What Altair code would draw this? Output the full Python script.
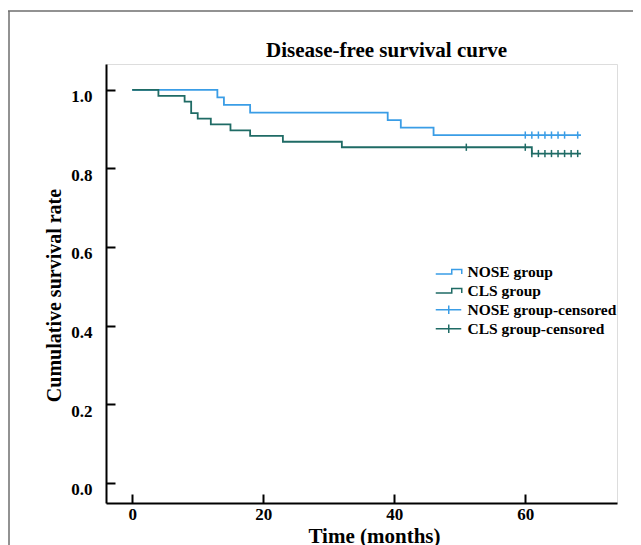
import altair as alt
import pandas as pd

# ---- data ----
series = ["NOSE group", "CLS group", "NOSE group-censored", "CLS group-censored"]
series_colors = ["#3a9de6", "#1f6b65", "#3a9de6", "#1f6b65"]

nose_time = [0, 13, 14, 18, 39, 41, 46, 68.5]
nose_surv = [1.0, 0.981, 0.962, 0.942, 0.923, 0.904, 0.885, 0.885]

cls_time = [0, 4, 8, 9, 10, 12, 15, 18, 23, 32, 61, 68.5]
cls_surv = [1.0, 0.985, 0.970, 0.941, 0.927, 0.912, 0.897, 0.883, 0.868, 0.854, 0.838, 0.838]

nose_cens_time = [60, 61, 62, 63, 64, 65, 66, 68]
nose_cens_surv = [0.885, 0.885, 0.885, 0.885, 0.885, 0.885, 0.885, 0.885]

cls_cens_time = [51, 60, 61, 62, 63, 64, 65, 66, 67, 68]
cls_cens_surv = [0.854, 0.854, 0.838, 0.838, 0.838, 0.838, 0.838, 0.838, 0.838, 0.838]

x_ticks = [0, 20, 40, 60]
y_ticks = [0.0, 0.2, 0.4, 0.6, 0.8, 1.0]

# legend symbol paths (step line for groups, cross for censored)
step_path = "M-2.6,0.45H0.6V-0.45H2.6V0.45"
cross_path = "M-2.6,0H2.5M0,-0.85V0.85"
legend_paths = [step_path, step_path, cross_path, cross_path]

# ---- tables ----
line_df = pd.concat([
    pd.DataFrame({"time": nose_time, "surv": nose_surv, "series": series[0]}),
    pd.DataFrame({"time": cls_time, "surv": cls_surv, "series": series[1]}),
], ignore_index=True)

cens_df = pd.concat([
    pd.DataFrame({"time": nose_cens_time, "surv": nose_cens_surv, "series": series[2]}),
    pd.DataFrame({"time": cls_cens_time, "surv": cls_cens_surv, "series": series[3]}),
], ignore_index=True)

FONT = "Liberation Serif"

xscale = alt.Scale(domain=[-4, 74], nice=False, zero=False)
yscale = alt.Scale(domain=[-0.052, 1.066], nice=False, zero=False)
cscale = alt.Scale(domain=series, range=series_colors)

xaxis = alt.Axis(
    values=x_ticks, format="d", grid=False,
    domainColor="black", domainWidth=2,
    tickColor="black", tickWidth=2, tickSize=alt.ExprRef(expr="-9"),
    labelFont=FONT, labelFontSize=17, labelFontWeight="bold", labelColor="black",
    labelPadding=12,
    title="Time (months)", titleFont=FONT, titleFontSize=21, titleFontWeight="bold",
    titleColor="black", titleX=268, titleY=39, titleAlign="center",
    titleBaseline="alphabetic",
)
yaxis = alt.Axis(
    values=y_ticks, format=".1f", grid=False,
    domainColor="black", domainWidth=2,
    tickColor="black", tickWidth=2, tickSize=alt.ExprRef(expr="-9"),
    labelFont=FONT, labelFontSize=17, labelFontWeight="bold", labelColor="black",
    labelPadding=23, labelBaseline="top", labelOffset=-1,
    title="Cumulative survival rate", titleFont=FONT, titleFontSize=20,
    titleFontWeight="bold", titleColor="black", titleX=-46, titleY=231,
    titleAngle=270, titleAlign="center", titleBaseline="alphabetic",
)

X = alt.X("time:Q", scale=xscale, axis=xaxis)
Y = alt.Y("surv:Q", scale=yscale, axis=yaxis)

legend_def = alt.Legend(
    title=None, orient="none", legendX=335, legendY=200,
    symbolSize=100, symbolStrokeWidth=1.5, symbolOpacity=1,
    labelFont=FONT, labelFontSize=15.5, labelFontWeight="bold", labelColor="black",
    labelOffset=11, rowPadding=2, padding=0,
)

legend_layer = alt.Chart(cens_df).mark_point(filled=False, opacity=0, strokeWidth=1.5).encode(
    x=X, y=Y,
    color=alt.Color("series:N", scale=cscale, legend=legend_def),
    shape=alt.Shape("series:N", scale=alt.Scale(domain=series, range=legend_paths),
                    legend=legend_def),
)

lines = alt.Chart(line_df).mark_line(interpolate="step-after", strokeWidth=1.8).encode(
    x=X, y=Y,
    color=alt.Color("series:N", scale=cscale, legend=None),
)

cens = alt.Chart(cens_df).mark_point(
    shape="M0,-1V1", filled=False, size=52, strokeWidth=1.5, opacity=1
).encode(
    x=X, y=Y,
    color=alt.Color("series:N", scale=cscale, legend=None),
)

frame_df = pd.DataFrame({"k": [0]})
frame_top = alt.Chart(frame_df).mark_rule(color="#6e6e6e", strokeWidth=1.5).encode(
    x=alt.value(-98), x2=alt.value(530), y=alt.value(-53)
)
frame_left = alt.Chart(frame_df).mark_rule(color="#6e6e6e", strokeWidth=1.5).encode(
    x=alt.value(-97), y=alt.value(-53), y2=alt.value(485)
)

chart = alt.layer(legend_layer, frame_top, frame_left, lines, cens).properties(
    width=511,
    height=439,
    title=alt.Title(
        "Disease-free survival curve", font=FONT, fontSize=21, fontWeight="bold",
        color="black", anchor="middle", frame="group", dx=25, offset=6,
        baseline="alphabetic", dy=74,
    ),
    padding={"left": 98, "top": 56, "right": 16, "bottom": 45},
    autosize="none",
).configure_view(stroke=None).configure(background="white")

chart.save("out.html", embed_options={"renderer": "svg", "actions": False})
